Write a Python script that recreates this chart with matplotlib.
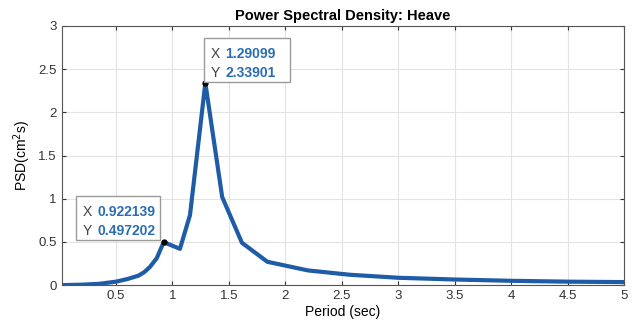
import matplotlib
matplotlib.use('Agg')
import matplotlib.pyplot as plt

plt.rcParams['font.family'] = ['Liberation Sans', 'DejaVu Sans']

# data
period = [0.02, 0.2, 0.35, 0.5, 0.6, 0.7, 0.75, 0.8, 0.86, 0.922139, 1.066, 1.155, 1.29099, 1.44, 1.615, 1.84, 2.2, 2.57, 3.0, 3.5, 4.0, 4.5, 5.0]
psd = [0.0, 0.005, 0.015, 0.04, 0.07, 0.11, 0.15, 0.21, 0.31, 0.497202, 0.42, 0.81, 2.33901, 1.02, 0.49, 0.27, 0.17, 0.12, 0.085, 0.065, 0.05, 0.04, 0.035]
tips = [(0.922139, 0.497202), (1.29099, 2.33901)]
tip_pos = [(76, 196), (204, 38)]  # pixel top-left of datatip boxes
tip_w = [84, 86]

fig = plt.figure(figsize=(6.37, 3.24), dpi=100)
ax = fig.add_axes([0.097, 0.12, 0.883, 0.80])
ax.plot(period, psd, color='#1f5ca6', lw=3, solid_joinstyle='round')
ax.set_xlim(0.02, 5)
ax.set_ylim(0, 3)
ax.set_xticks([0.5, 1, 1.5, 2, 2.5, 3, 3.5, 4, 4.5, 5])
ax.set_xticklabels(['0.5', '1', '1.5', '2', '2.5', '3', '3.5', '4', '4.5', '5'])
ax.set_yticks([0, 0.5, 1, 1.5, 2, 2.5, 3])
ax.set_yticklabels(['0', '0.5', '1', '1.5', '2', '2.5', '3'])
ax.grid(True, color='#e3e3e3', lw=0.8)
ax.tick_params(direction='in', top=True, right=True, labelsize=9.5, colors='#333333', length=3)
for s in ax.spines.values():
    s.set_color('#555555')
    s.set_linewidth(0.8)
ax.set_title('Power Spectral Density: Heave', fontsize=10.5, fontweight='bold', pad=4)
ax.set_xlabel('Period (sec)', fontsize=10, labelpad=2)
ax.set_ylabel('PSD(cm$^2$s)', fontsize=10, labelpad=4)

for (tx, ty), (px, py), w in zip(tips, tip_pos, tip_w):
    ax.plot(tx, ty, 'o', color='black', ms=3.5, zorder=5)
    fx = px / 637
    fy = 1 - py / 324
    fig.text(fx + 0.011, fy - 0.028, 'X', fontsize=10, color='#404040', va='top')
    fig.text(fx + 0.033, fy - 0.028, f'{tx:g}', fontsize=10, color='#2a6db5', fontweight='bold', va='top')
    fig.text(fx + 0.011, fy - 0.085, 'Y', fontsize=10, color='#404040', va='top')
    fig.text(fx + 0.033, fy - 0.085, f'{ty:g}', fontsize=10, color='#2a6db5', fontweight='bold', va='top')
    rect = plt.Rectangle((fx, fy - 44 / 324), w / 637, 44 / 324, transform=fig.transFigure,
                         fc='white', ec='#9a9a9a', lw=1, zorder=0.5)
    fig.patches.append(rect)

fig.savefig('out.png', dpi=100)
